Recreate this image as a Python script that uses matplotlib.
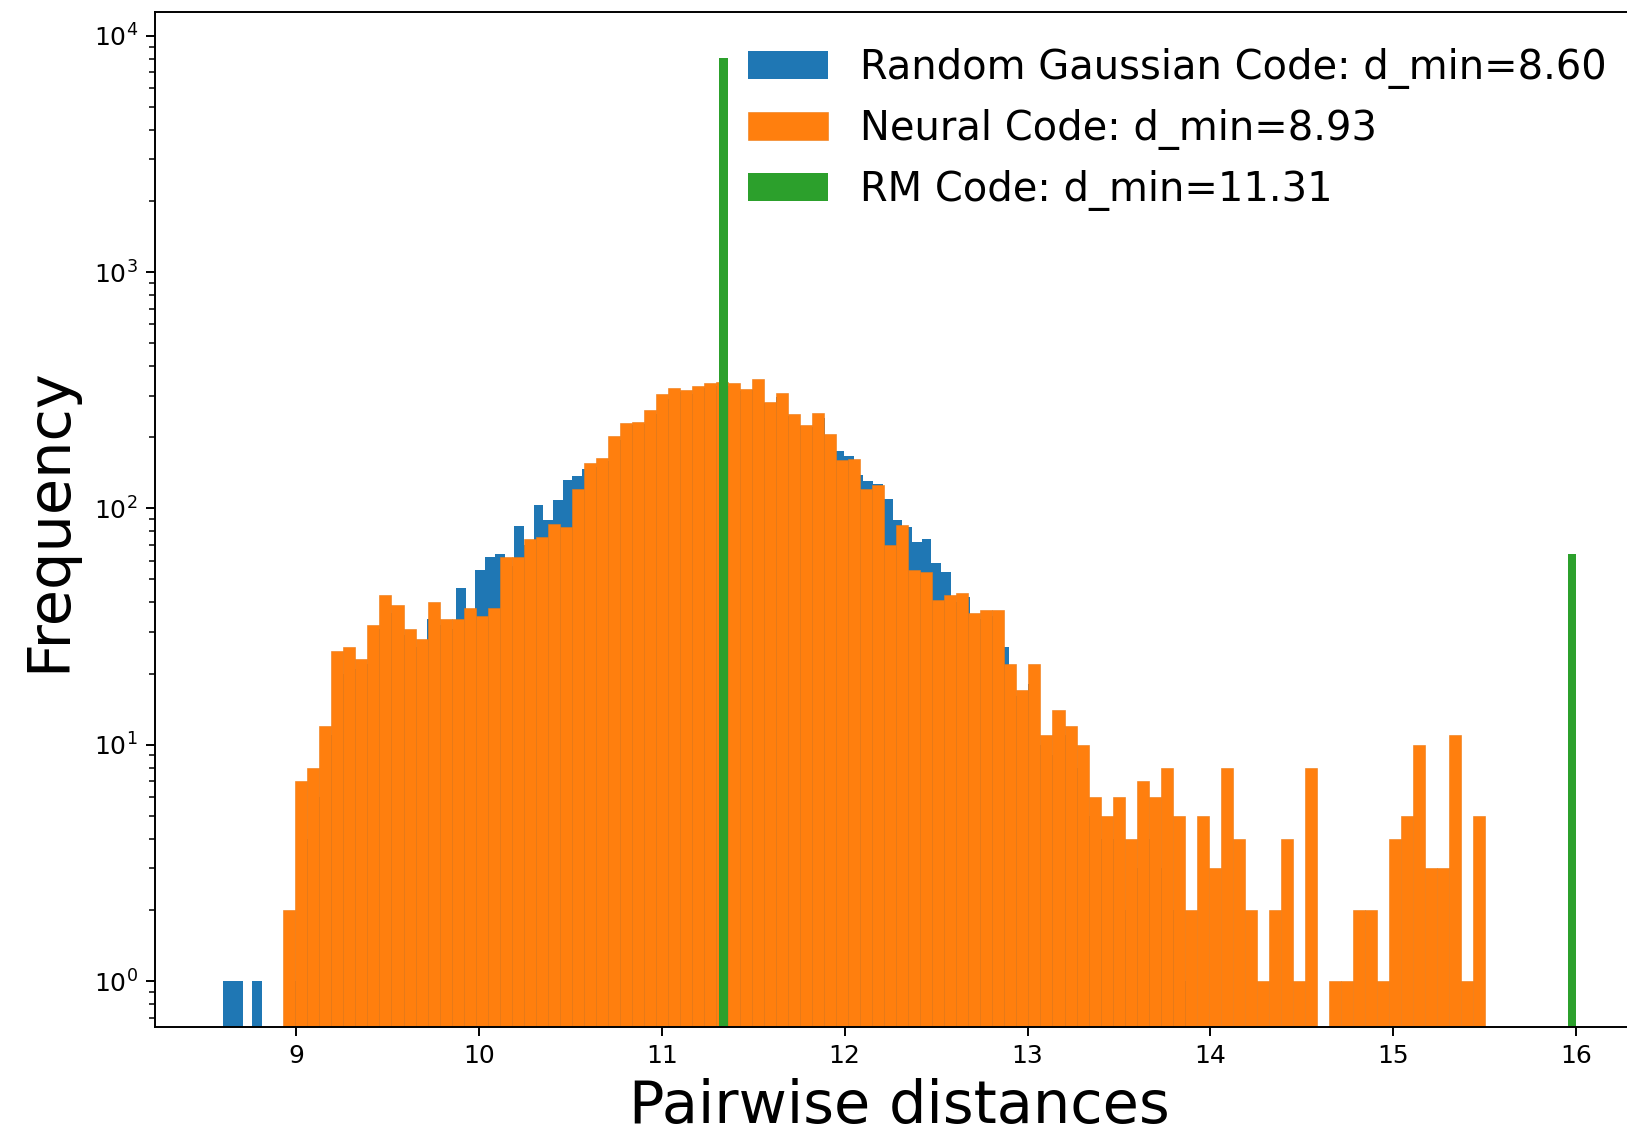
import numpy as np
import matplotlib
matplotlib.use('Agg')
import matplotlib.pyplot as plt

# histogram counts, 100 bins per code
gauss_lo, gauss_hi = 8.6025, 13.906
gauss_counts = [1, 1, 0, 1, 0, 0, 0, 1, 4, 6,
                9, 11, 20, 21, 22, 28, 31, 36, 29, 26,
                25, 34, 32, 31, 46, 34, 55, 62, 64, 57,
                84, 70, 103, 89, 108, 132, 137, 147, 150, 158,
                195, 215, 225, 228, 250, 290, 300, 310, 305, 322,
                330, 335, 330, 315, 318, 280, 275, 295, 245, 222,
                220, 240, 200, 175, 166, 139, 130, 127, 110, 89,
                83, 72, 74, 59, 54, 40, 42, 33, 34, 35,
                26, 16, 14, 18, 10, 9, 11, 9, 8, 5,
                4, 4, 3, 2, 3, 4, 3, 2, 2, 1]

neural_lo, neural_hi = 8.9306, 15.502
neural_counts = [2, 7, 8, 12, 25, 26, 23, 32, 43, 39,
                 31, 28, 40, 34, 34, 38, 35, 38, 62, 62,
                 74, 76, 86, 83, 121, 156, 163, 202, 230, 233,
                 261, 306, 324, 317, 330, 338, 343, 340, 321, 351,
                 283, 309, 250, 226, 254, 207, 160, 161, 121, 126,
                 70, 85, 55, 54, 41, 43, 44, 36, 37, 37,
                 22, 17, 22, 11, 14, 12, 10, 6, 5, 6,
                 4, 7, 6, 8, 5, 2, 5, 3, 8, 4,
                 2, 1, 2, 4, 1, 8, 0, 1, 1, 2,
                 2, 1, 4, 5, 10, 3, 3, 11, 1, 5]

# RM code only has two distinct distances
rm_dists = [11.3137, 16.0]
rm_counts = [8064, 64]

labels = ['Random Gaussian Code: d_min=8.60',
          'Neural Code: d_min=8.93',
          'RM Code: d_min=11.31']

W, H = 1627, 1136
fig = plt.figure(figsize=(W / 100, H / 100), dpi=100)
# axes runs a bit past the right edge, like the cropped original
ax = fig.add_axes([155 / W, 1 - 1027.3 / H, 1488 / W, (1027.3 - 12.3) / H])

g_edges = np.linspace(gauss_lo, gauss_hi, len(gauss_counts) + 1)
n_edges = np.linspace(neural_lo, neural_hi, len(neural_counts) + 1)

ax.hist(g_edges[:-1], bins=g_edges, weights=gauss_counts, log=True,
        color='#1f77b4', label=labels[0])
ax.hist(n_edges[:-1], bins=n_edges, weights=neural_counts, log=True,
        color='#ff7f0e', edgecolor='#ec7a14', linewidth=0.4, label=labels[1])
ax.hist(rm_dists, bins=100, weights=rm_counts, log=True,
        color='#2ca02c', label=labels[2])

ax.set_xlim(8.229, 16.365)
ax.set_ylim(0.637, 12560)
ax.set_xticks(range(9, 17))

ax.set_xlabel('Pairwise distances', fontsize=42.5, labelpad=7)
ax.set_ylabel('Frequency', fontsize=42.5, labelpad=12)
ax.tick_params(which='major', labelsize=18, length=6.3, width=1.4, pad=6)
ax.tick_params(which='minor', length=4.0, width=1.1)
for s in ax.spines.values():
    s.set_linewidth(1.4)

ax.legend(loc='upper right', fontsize=28.8, frameon=False)

fig.savefig('out.png', dpi=100)
